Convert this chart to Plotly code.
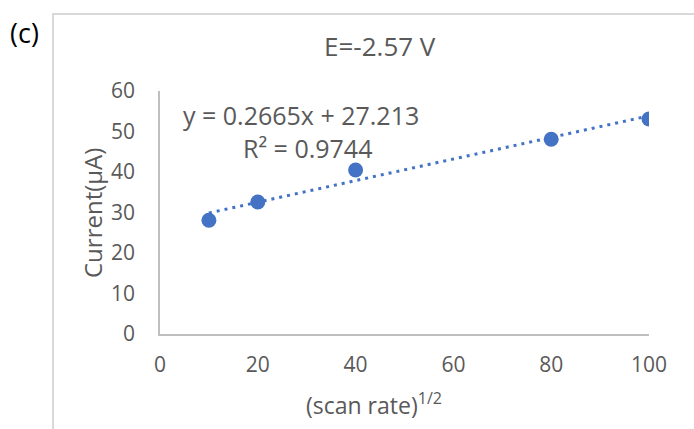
import plotly.graph_objects as go

x_vals = [10, 20, 40, 80, 100]
y_vals = [28.1, 32.6, 40.5, 48.1, 53.1]
slope = 0.2665
intercept = 27.213
x_ticks = [0, 20, 40, 60, 80, 100]
y_ticks = [0, 10, 20, 30, 40, 50, 60]

BLUE = "#4472c4"
GRAY = "#595959"
FONT = "Open Sans"

L, R, T, B = 160, 45, 91, 95
W, H = 694, 429
pw, ph = W - L - R, H - T - B


def px(x):
    return (x - L) / pw


def py(y):
    return (H - B - y) / ph


trend_x = [min(x_vals), max(x_vals)]
trend_y = [slope * v + intercept for v in trend_x]

fig = go.Figure()
fig.add_trace(go.Scatter(x=trend_x, y=trend_y, mode="lines",
                         line=dict(color=BLUE, width=3, dash="3px,5px"),
                         showlegend=False, hoverinfo="skip"))
fig.add_trace(go.Scatter(x=x_vals, y=y_vals, mode="markers",
                         marker=dict(color=BLUE, size=15),
                         showlegend=False))


def ann(text, x, y, size, color=GRAY, angle=0):
    return dict(text=text, xref="paper", yref="paper", x=px(x), y=py(y),
                xanchor="center", yanchor="middle", showarrow=False,
                textangle=angle, font=dict(size=size, color=color))


fig.update_layout(
    width=W, height=H,
    margin=dict(l=L, r=R, t=T, b=B, autoexpand=False),
    paper_bgcolor="white", plot_bgcolor="white",
    font=dict(family=FONT, color=GRAY, size=21),
    xaxis=dict(range=[0, 100], tickvals=x_ticks, showgrid=False, zeroline=False,
               showline=True, linecolor="#bfbfbf", linewidth=1.5, ticks="",
               ticklabelstandoff=11, tickfont=dict(size=21, color=GRAY)),
    yaxis=dict(range=[0, 60], tickvals=y_ticks, showgrid=False, zeroline=False,
               showline=True, linecolor="#bfbfbf", linewidth=1.5, ticks="",
               ticklabelstandoff=19, tickfont=dict(size=21, color=GRAY)),
    shapes=[dict(type="rect", xref="paper", yref="paper",
                 x0=px(53), x1=px(720), y0=py(440), y1=py(14),
                 line=dict(color="#d9d9d9", width=2), fillcolor="rgba(0,0,0,0)",
                 layer="below")],
    annotations=[
        ann("E=-2.57 V", 380, 46, 26),
        ann("(c)", 24, 33, 27, "black"),
        ann(f"y = {slope}x + {intercept}", 301, 115, 25),
        ann("R² = 0.9744", 307, 148, 25),
        ann("(scan rate)<sup>1/2</sup>", 374, 404, 23),
        ann("Current(μA)", 92, 213, 24, angle=-90),
    ],
)

fig.write_html("out.html")
